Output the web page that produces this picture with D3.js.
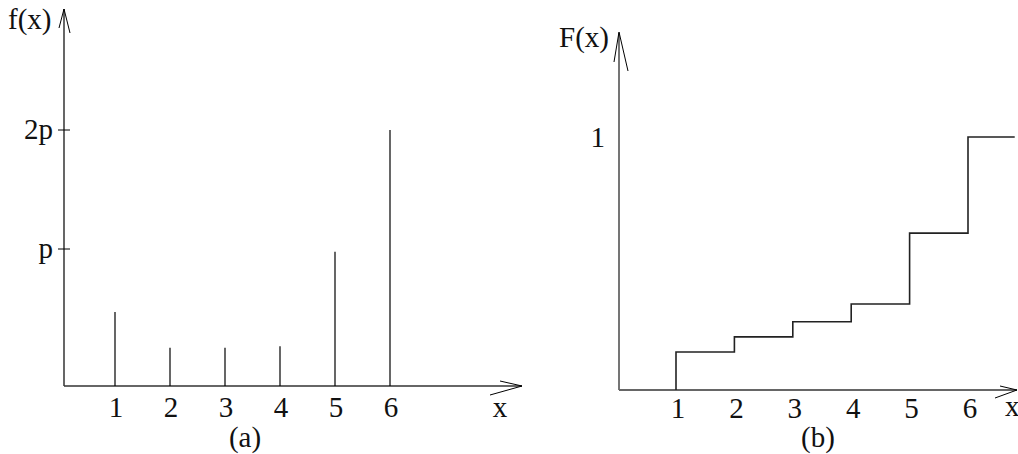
<!DOCTYPE html>
<html>
<head>
<meta charset="utf-8">
<script src="https://cdn.jsdelivr.net/npm/d3@7"></script>
<style>
  body { margin: 0; background: #fff; }
  text { font-family: "Liberation Serif", "DejaVu Serif", serif; fill: #111; }
</style>
</head>
<body>
<div id="draw"></div>
<script>
// data
var xs = [1, 2, 3, 4, 5, 6];
var fVals = [0.54, 0.28, 0.28, 0.29, 0.98, 2.0];     // f(x), in units of p
var FVals = [0.15, 0.21, 0.27, 0.34, 0.62, 1.0];     // F(x) after each jump
var fTicks = [1, 2];
var fTickLabels = ["p", "2p"];
var FEnd = 6.8;

var w = 1018, h = 454;
var svg = d3.select("#draw").append("svg")
    .attr("width", w)
    .attr("height", h);

var fs = 29;

//---- (a) ----
var xa = d3.scaleLinear().domain([1, 6]).range([115, 390]);
var ya = d3.scaleLinear().domain([0, 1, 2]).range([386, 249, 130]);
var ga = svg.append("g");

// axes
ga.append("line").attr("x1", 64).attr("y1", 386).attr("x2", 64).attr("y2", 9)
    .attr("stroke", "#000").attr("stroke-width", 1.2);
ga.append("line").attr("x1", 64).attr("y1", 386).attr("x2", 522).attr("y2", 386)
    .attr("stroke", "#333").attr("stroke-width", 1.3);
// arrow heads
ga.append("path").attr("d", "M59,28 L64,9 L70,33")
    .attr("fill", "none").attr("stroke", "#000").attr("stroke-width", 1);
ga.append("path").attr("d", "M500,381 L522,386 L490,395")
    .attr("fill", "none").attr("stroke", "#000").attr("stroke-width", 1);

// y ticks
ga.selectAll(".ytick").data(fTicks).enter().append("line")
    .attr("x1", 58).attr("x2", 70)
    .attr("y1", function(d) { return ya(d); })
    .attr("y2", function(d) { return ya(d); })
    .attr("stroke", "#000").attr("stroke-width", 1);
ga.selectAll(".ylab").data(fTicks).enter().append("text")
    .attr("x", 53)
    .attr("y", function(d) { return ya(d) + 9; })
    .attr("text-anchor", "end")
    .attr("font-size", fs)
    .text(function(d, i) { return fTickLabels[i]; });

// stems
ga.selectAll(".stem").data(xs).enter().append("line")
    .attr("x1", function(d) { return xa(d); })
    .attr("x2", function(d) { return xa(d); })
    .attr("y1", ya(0))
    .attr("y2", function(d, i) { return ya(fVals[i]); })
    .attr("stroke", "#000").attr("stroke-width", 1.2);

ga.selectAll(".xlab").data(xs).enter().append("text")
    .attr("x", function(d) { return xa(d) + 1; })
    .attr("y", 417)
    .attr("text-anchor", "middle")
    .attr("font-size", fs)
    .text(function(d) { return d; });

ga.append("text").attr("x", 8).attr("y", 29).attr("font-size", fs).text("f(x)");
ga.append("text").attr("x", 500).attr("y", 417).attr("text-anchor", "middle")
    .attr("font-size", fs).text("x");
ga.append("text").attr("x", 245).attr("y", 447).attr("text-anchor", "middle")
    .attr("font-size", fs).text("(a)");

//---- (b) ----
var xb = d3.scaleLinear().domain([1, 6]).range([676, 968]);
var yb = d3.scaleLinear().domain([0, 1]).range([390, 137]);
var gb = svg.append("g");

gb.append("line").attr("x1", 619).attr("y1", 390).attr("x2", 619).attr("y2", 33)
    .attr("stroke", "#666").attr("stroke-width", 1.8);
gb.append("line").attr("x1", 619).attr("y1", 390).attr("x2", 1017).attr("y2", 390)
    .attr("stroke", "#666").attr("stroke-width", 1.8);
gb.append("path").attr("d", "M614,62 L619,32 L628,71")
    .attr("fill", "none").attr("stroke", "#000").attr("stroke-width", 1);
gb.append("path").attr("d", "M1000,386 L1017,390 L995,398")
    .attr("fill", "none").attr("stroke", "#000").attr("stroke-width", 1);

// step line
var pts = [[xs[0], 0]];
xs.forEach(function(d, i) {
    pts.push([d, FVals[i]]);
    pts.push([i < xs.length - 1 ? xs[i + 1] : FEnd, FVals[i]]);
});
var line = d3.line()
    .x(function(d) { return xb(d[0]); })
    .y(function(d) { return yb(d[1]); })
    .curve(d3.curveStepBefore);
gb.append("path").datum(pts)
    .attr("d", line)
    .attr("fill", "none")
    .attr("stroke", "#222")
    .attr("stroke-width", 1.6);

gb.selectAll(".xlab").data(xs).enter().append("text")
    .attr("x", function(d) { return xb(d) + 2; })
    .attr("y", 418)
    .attr("text-anchor", "middle")
    .attr("font-size", fs)
    .text(function(d) { return d; });

gb.append("text").attr("x", 605).attr("y", yb(1) + 10).attr("text-anchor", "end")
    .attr("font-size", fs).text("1");
gb.append("text").attr("x", 559).attr("y", 47).attr("font-size", fs).text("F(x)");
gb.append("text").attr("x", 1005).attr("y", 416).attr("font-size", fs).text("x");
gb.append("text").attr("x", 818).attr("y", 447).attr("text-anchor", "middle")
    .attr("font-size", fs).text("(b)");
</script>
</body>
</html>
